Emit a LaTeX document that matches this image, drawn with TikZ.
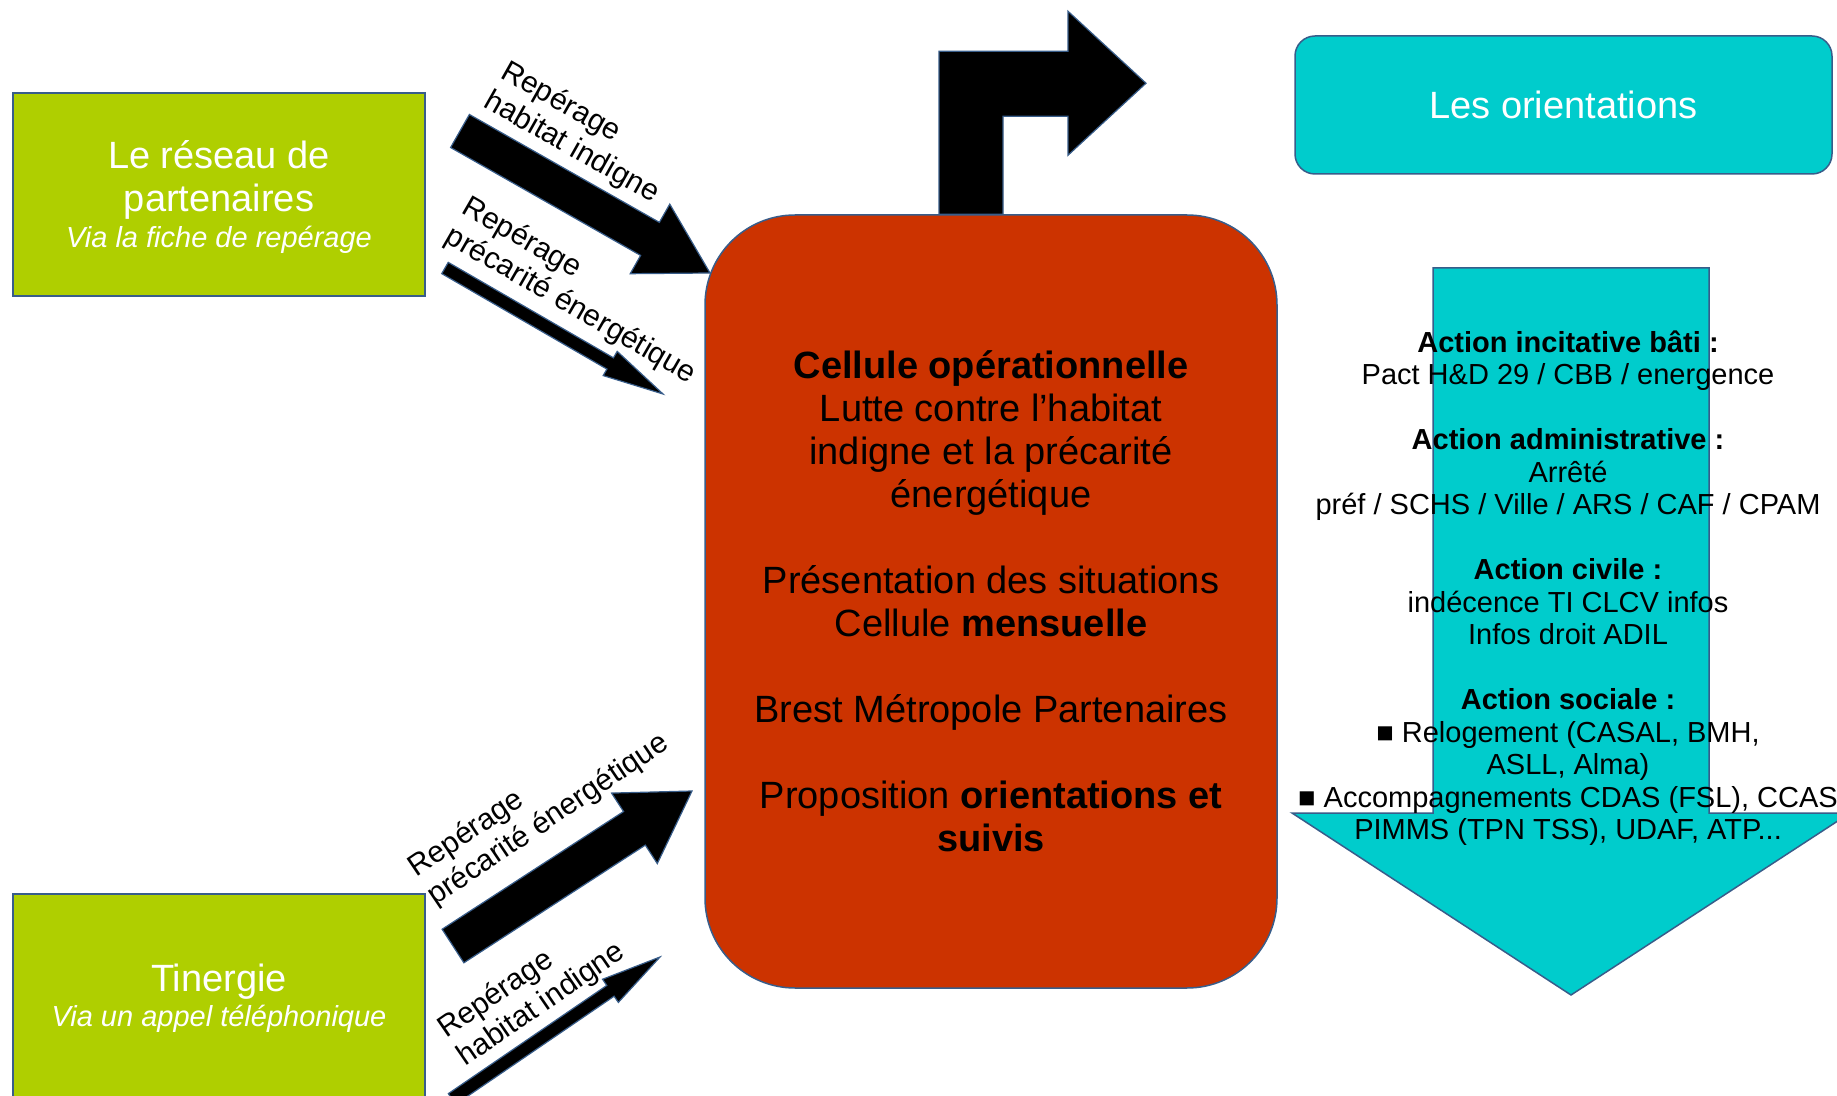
\documentclass[tikz,border=0pt]{standalone}
\usepackage{fontspec}
\setmainfont{Liberation Sans}
\usetikzlibrary{calc}
\definecolor{gfill}{RGB}{175,207,0}
\definecolor{rfill}{RGB}{204,51,0}
\definecolor{tfill}{RGB}{0,204,204}
\definecolor{edge}{RGB}{56,93,138}

% #1 name, #2 tail, #3 tip, #4 half shaft, #5 half head, #6 head length
\newcommand\blockarr[6]{%
  \coordinate (#1-t) at #2;
  \coordinate (#1-p) at #3;
  \coordinate (#1-b) at ($(#1-p)!#6!(#1-t)$);
  \draw[arrfill] ($(#1-t)!#4!90:(#1-p)$) -- ($(#1-b)!#4!90:(#1-p)$) -- ($(#1-b)!#5!90:(#1-p)$)
     -- (#1-p) -- ($(#1-b)!#5!-90:(#1-p)$) -- ($(#1-b)!#4!-90:(#1-p)$) -- ($(#1-t)!#4!-90:(#1-p)$) -- cycle;
}

\tikzset{
  outl/.style={draw=edge, line width=0.75pt},
  gbox/.style={outl, fill=gfill, inner sep=0pt},
  cellbox/.style={outl, fill=rfill, rounded corners=45pt, minimum width=286pt, minimum height=386.5pt,
    align=center, font=\fontsize{19}{21.5}\selectfont, text=black, inner sep=0pt},
  obox/.style={outl, fill=tfill, rounded corners=10pt, minimum width=268.5pt, minimum height=69pt,
    font=\fontsize{19}{22}\selectfont, text=white},
  arrfill/.style={fill=black, draw=edge, line width=0.6pt, line join=miter},
  wtitle/.style={text=white, align=center, inner sep=0pt, font=\fontsize{19}{21.5}\selectfont},
  wsub/.style={text=white, inner sep=0pt, font=\fontsize{14.5}{17}\selectfont\itshape},
  lab/.style={align=left, inner sep=0pt, font=\fontsize{15}{17}\selectfont, text=black},
  acts/.style={align=center, inner sep=0pt, font=\fontsize{14.5}{16.25}\selectfont, text=black},
}

\begin{document}
\begin{tikzpicture}[x=0.5pt,y=-0.5pt]
\fill[white] (0,0) rectangle (1837,1096);
\useasboundingbox (0,0) rectangle (1837,1096);
\clip (0,0) rectangle (1837,1096);

% green source boxes
\node[gbox, minimum width=206pt, minimum height=101.5pt] (net) at (219,194.5) {};
\node[wtitle] (nett) at (219,180) {Le réseau de\\partenaires};
\node[wsub] (nets) at (219,239.5) {Via la fiche de repérage};

\node[gbox, minimum width=206pt, minimum height=103pt] (tin) at (219,997) {};
\node[wtitle] (tint) at (219,981.5) {Tinergie};
\node[wsub] (tins) at (219,1018.5) {Via un appel téléphonique};

% central cell
\node[cellbox] (cell) at (991,601.5) {\textbf{Cellule opérationnelle}\\Lutte contre l'habitat\\indigne et la précarité\\énergétique\\[21.5pt]Présentation des situations\\Cellule \textbf{mensuelle}\\[21.5pt]Brest Métropole Partenaires\\[21.5pt]Proposition \textbf{orientations et}\\\textbf{suivis}};

% turn arrow out of the cell
\draw[arrfill] ($(cell.north)+(-52,0)$) coordinate (turnA) -- ++(0,-163) -- ++(129,0) -- ++(0,-40)
   -- ++(78,72) -- ++(-78,72) -- ++(0,-39) -- ++(-65,0) -- ++(0,98) -- cycle;

% orientations
\node[obox] (orient) at (1563.5,105) {Les orientations};
\draw[outl, fill=tfill] (1433,268) -- (1709,268) -- (1709,813) -- (1850,813) -- (1571,995) -- (1292,813) -- (1433,813) -- cycle;
\node[acts] (actions) at (1568,588) {\textbf{Action incitative bâti :}\\Pact H\&D 29 / CBB / energence\\[16.25pt]\textbf{Action administrative :}\\Arrêté\\préf / SCHS / Ville / ARS / CAF / CPAM\\[16.25pt]\textbf{Action civile :}\\indécence TI CLCV infos\\Infos droit ADIL\\[16.25pt]\textbf{Action sociale :}\\■ Relogement (CASAL, BMH,\\ASLL, Alma)\\■ Accompagnements CDAS (FSL), CCAS\\PIMMS (TPN TSS), UDAF, ATP...};

% block arrows into the cell
\blockarr{aA}{(460,131)}{(710,273)}{9.5pt}{20pt}{34.5pt}
\blockarr{aB}{(445,268)}{(663,394)}{3.25pt}{7pt}{30.5pt}
\blockarr{aC}{(453,946)}{(692,791)}{10pt}{21pt}{34.3pt}
\blockarr{aD}{(452,1099)}{(660,957)}{3.25pt}{7pt}{30pt}

% arrow labels
\node[lab, rotate=-29.5] (labA) at (580,133) {Repérage\\habitat indigne};
\node[lab, rotate=-30] (labB) at (579,291) {Repérage\\précarité énergétique};
\node[lab, rotate=34] (labC) at (539,806) {Repérage\\précarité énergétique};
\node[lab, rotate=34.5] (labD) at (532,991) {Repérage\\habitat indigne};
\end{tikzpicture}
\end{document}
